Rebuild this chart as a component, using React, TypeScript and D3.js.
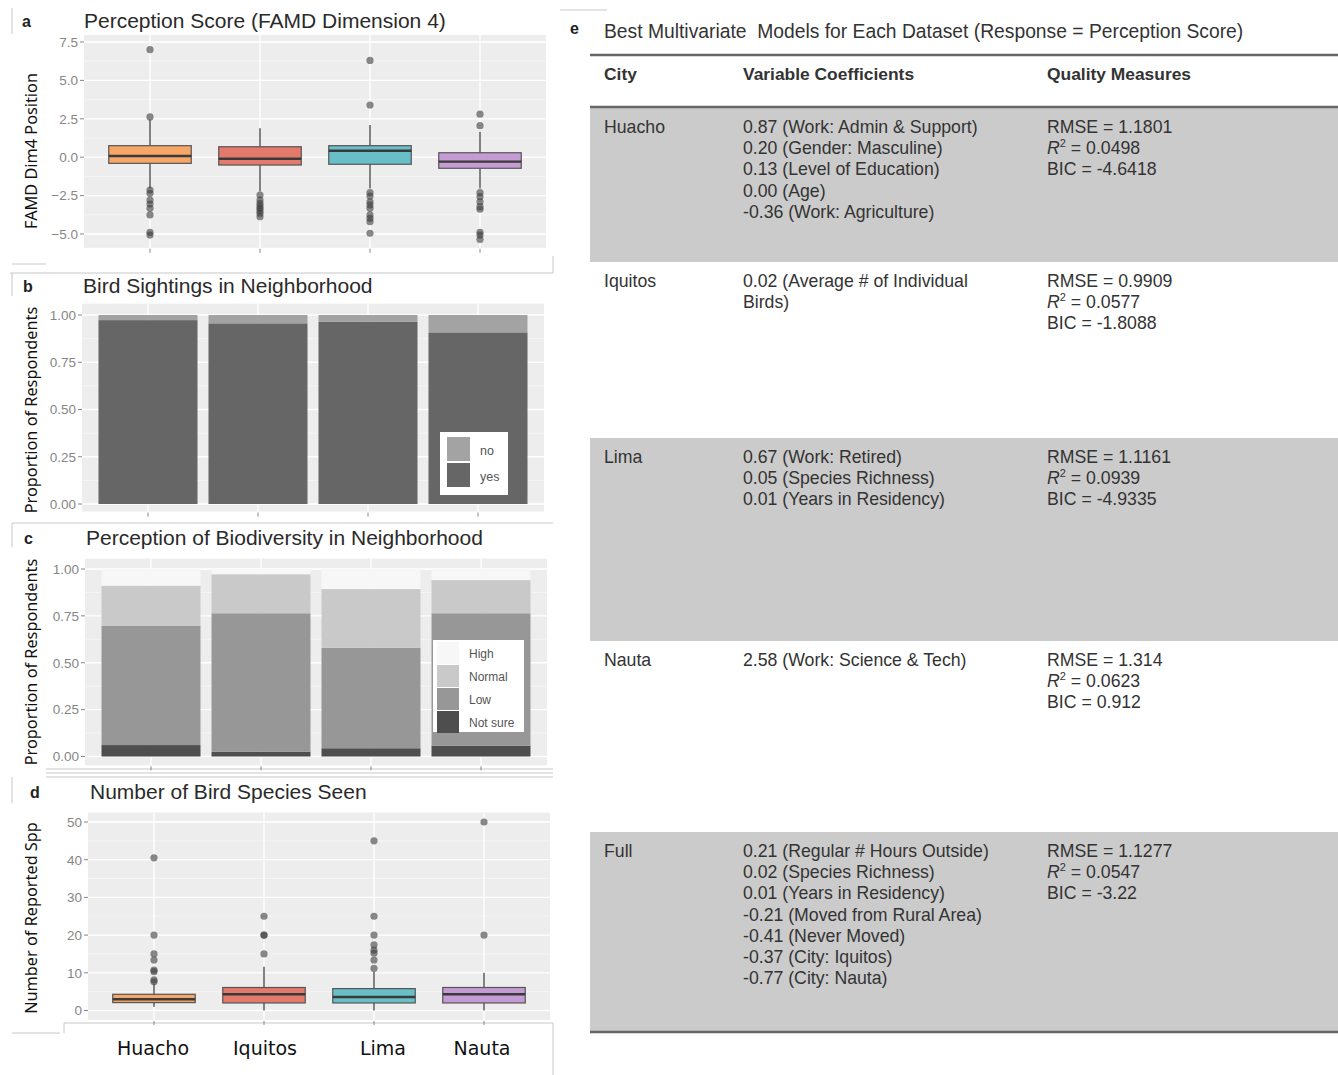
import React from "react";
import * as d3 from "d3";

// ---------- shared ----------
const cities = ["Huacho", "Iquitos", "Lima", "Nauta"];
const cityColors = ["#F6A768", "#E37A6C", "#69BFC8", "#C59BD4"];

// ---------- panel a: perception score ----------
const percTicks = [-5, -2.5, 0, 2.5, 5, 7.5];
const percQ1 = [-0.4, -0.51, -0.46, -0.72];
const percMedian = [0.08, -0.1, 0.42, -0.29];
const percQ3 = [0.75, 0.68, 0.75, 0.29];
const percWhiskerLow = [-2.03, -2.24, -2.03, -2.03];
const percWhiskerHigh = [2.45, 1.88, 2.1, 1.66];
const percOutliers = [
  [7.0, 2.62, -2.14, -2.35, -2.79, -3.05, -3.33, -3.76, -4.89, -5.07],
  [-2.46, -2.79, -3.0, -3.18, -3.33, -3.48, -3.65, -3.87],
  [6.3, 3.4, -2.31, -2.53, -2.9, -3.11, -3.33, -3.76, -3.98, -4.2, -4.95],
  [2.8, 2.05, -2.31, -2.57, -2.9, -3.22, -3.39, -4.89, -5.07, -5.35],
];

// ---------- panel b: bird sightings ----------
const sightingCategories = ["no", "yes"];
const sightingColors = ["#A3A3A3", "#666666"];
const sightingYes = [0.973, 0.956, 0.965, 0.908];
const sightingNo = [0.027, 0.044, 0.035, 0.092];
const propTicks = [0, 0.25, 0.5, 0.75, 1];

// ---------- panel c: perception of biodiversity ----------
const biodivCategories = ["High", "Normal", "Low", "Not sure"];
const biodivColors = ["#F7F7F7", "#C9C9C9", "#979797", "#4E4E4E"];
const biodivNotSure = [0.061, 0.026, 0.044, 0.058];
const biodivLow = [0.635, 0.738, 0.536, 0.706];
const biodivNormal = [0.215, 0.208, 0.313, 0.177];
const biodivHigh = [0.089, 0.028, 0.107, 0.059];

// ---------- panel d: number of species ----------
const sppTicks = [0, 10, 20, 30, 40, 50];
const sppQ1 = [2.1, 2, 2, 2];
const sppMedian = [3, 4.3, 3.6, 4.3];
const sppQ3 = [4.3, 6.1, 5.8, 6.1];
const sppWhiskerLow = [1, 0, 0, 0];
const sppWhiskerHigh = [7, 11.6, 10.3, 10];
const sppOutliers = [
  [40.5, 20, 15, 13.4, 10.7, 10.3, 8.1, 7.6],
  [25, 20, 20, 15],
  [45, 25, 20, 17.4, 16, 15.2, 13.4, 11.2],
  [50, 20],
];

// ---------- panel e: table ----------
const tableTitle =
  "Best Multivariate  Models for Each Dataset (Response = Perception Score)";
const tableHeaders = ["City", "Variable Coefficients", "Quality Measures"];
const tableCities = ["Huacho", "Iquitos", "Lima", "Nauta", "Full"];
const tableCoefs = [
  [
    "0.87 (Work: Admin & Support)",
    "0.20 (Gender: Masculine)",
    "0.13 (Level of Education)",
    "0.00 (Age)",
    "-0.36 (Work: Agriculture)",
  ],
  ["0.02 (Average # of Individual", "Birds)"],
  ["0.67 (Work: Retired)", "0.05 (Species Richness)", "0.01 (Years in Residency)"],
  ["2.58 (Work: Science & Tech)"],
  [
    "0.21 (Regular # Hours Outside)",
    "0.02 (Species Richness)",
    "0.01 (Years in Residency)",
    "-0.21 (Moved from Rural Area)",
    "-0.41 (Never Moved)",
    "-0.37 (City: Iquitos)",
    "-0.77 (City: Nauta)",
  ],
];
const tableRmse = ["1.1801", "0.9909", "1.1161", "1.314", "1.1277"];
const tableR2 = ["0.0498", "0.0577", "0.0939", "0.0623", "0.0547"];
const tableBic = ["-4.6418", "-1.8088", "-4.9335", "0.912", "-3.22"];

// ---------- layout ----------
const W = 1338;
const H = 1075;
const SANS = "'Liberation Sans', Arial, sans-serif";
const AXIS_FONT = "'Noto Sans', 'Open Sans', sans-serif";
const TICK_COLOR = "#868686";
const BG = "#EDEDED";

type PlotProps = {
  x0: number;
  x1: number;
  y: d3.ScaleLinear<number, number>;
  yTop: number;
  yBottom: number;
  ticks: number[];
  minor: number[];
  fmt: (v: number) => string;
  xs: d3.ScalePoint<string>;
};

function PlotFrame({ x0, x1, y, yTop, yBottom, ticks, minor, fmt, xs }: PlotProps) {
  return (
    <g>
      <rect x={x0} y={yTop} width={x1 - x0} height={yBottom - yTop} fill={BG} />
      {minor.map((t, i) => (
        <line key={"mi" + i} x1={x0} x2={x1} y1={y(t)} y2={y(t)} stroke="#F8F8F8" strokeWidth={0.7} />
      ))}
      {ticks.map((t, i) => (
        <line key={"ma" + i} x1={x0} x2={x1} y1={y(t)} y2={y(t)} stroke="#FFFFFF" strokeWidth={1.3} />
      ))}
      {cities.map((c) => (
        <line key={"v" + c} x1={xs(c)} x2={xs(c)} y1={yTop} y2={yBottom} stroke="#FFFFFF" strokeWidth={1.3} />
      ))}
      {ticks.map((t, i) => (
        <g key={"t" + i}>
          <line x1={x0 - 4} x2={x0} y1={y(t)} y2={y(t)} stroke={TICK_COLOR} strokeWidth={1} />
          <text
            x={x0 - 6}
            y={y(t) + 4.8}
            textAnchor="end"
            fontFamily={SANS}
            fontSize={13.5}
            fill={TICK_COLOR}
          >
            {fmt(t)}
          </text>
        </g>
      ))}
      {cities.map((c) => (
        <line key={"xt" + c} x1={xs(c)} x2={xs(c)} y1={yBottom + 1} y2={yBottom + 5} stroke={TICK_COLOR} strokeWidth={1} />
      ))}
    </g>
  );
}

function Boxes({
  xs,
  y,
  q1,
  med,
  q3,
  lo,
  hi,
  outliers,
}: {
  xs: d3.ScalePoint<string>;
  y: d3.ScaleLinear<number, number>;
  q1: number[];
  med: number[];
  q3: number[];
  lo: number[];
  hi: number[];
  outliers: number[][];
}) {
  const bw = xs.step() * 0.75;
  return (
    <g>
      {cities.map((c, i) => {
        const cx = xs(c) as number;
        return (
          <g key={c}>
            <line x1={cx} x2={cx} y1={y(q3[i])} y2={y(hi[i])} stroke="#5A5A5A" strokeWidth={1.5} />
            <line x1={cx} x2={cx} y1={y(q1[i])} y2={y(lo[i])} stroke="#5A5A5A" strokeWidth={1.5} />
            <rect
              x={cx - bw / 2}
              y={y(q3[i])}
              width={bw}
              height={y(q1[i]) - y(q3[i])}
              fill={cityColors[i]}
              stroke="#555555"
              strokeWidth={1.2}
            />
            <line x1={cx - bw / 2} x2={cx + bw / 2} y1={y(med[i])} y2={y(med[i])} stroke="#3A3A3A" strokeWidth={2.4} />
            {outliers[i].map((v, j) => (
              <circle key={j} cx={cx} cy={y(v)} r={3.6} fill="#3C3C3C" fillOpacity={0.6} />
            ))}
          </g>
        );
      })}
    </g>
  );
}

function Title({ letter, lx, text, tx, y }: { letter: string; lx: number; text: string; tx: number; y: number }) {
  return (
    <g>
      <text x={lx} y={y - 1} fontFamily={SANS} fontWeight="bold" fontSize={16} fill="#222">
        {letter}
      </text>
      <text x={tx} y={y} fontFamily={SANS} fontSize={21} fill="#2A2A2A">
        {text}
      </text>
    </g>
  );
}

function YTitle({ text, cy }: { text: string; cy: number }) {
  return (
    <text
      transform={`translate(37,${cy}) rotate(-90)`}
      textAnchor="middle"
      fontFamily={AXIS_FONT}
      fontSize={16.3}
      fill="#111"
    >
      {text}
    </text>
  );
}

const fmt1 = d3.format(".1f");
const fmt2 = d3.format(".2f");
const fmt0 = d3.format("d");

export default function App() {
  // panel a
  const xa = d3.scalePoint<string>().domain(cities).range([84, 546]).padding(0.6);
  const ya = d3.scaleLinear().domain([-5, 7.5]).range([234, 42]);
  // panel b
  const xb = d3.scalePoint<string>().domain(cities).range([82, 544]).padding(0.6);
  const yb = d3.scaleLinear().domain([0, 1]).range([504, 315]);
  // panel c
  const xc = d3.scalePoint<string>().domain(cities).range([85, 547]).padding(0.6);
  const yc = d3.scaleLinear().domain([0, 1]).range([756.5, 569]);
  // panel d
  const xd = d3.scalePoint<string>().domain(cities).range([88, 550]).padding(0.6);
  const yd = d3.scaleLinear().domain([0, 50]).range([1010.5, 822]);

  const minorProp = [0.125, 0.375, 0.625, 0.875];

  const bStack = [sightingYes, sightingNo];
  const bStackColors = [sightingColors[1], sightingColors[0]];
  const cStack = [biodivNotSure, biodivLow, biodivNormal, biodivHigh];
  const cStackColors = [biodivColors[3], biodivColors[2], biodivColors[1], biodivColors[0]];

  const stacked = (series: number[][]) =>
    cities.map((_, i) => {
      let acc = 0;
      return series.map((s) => {
        const start = acc;
        acc += s[i];
        return [start, acc];
      });
    });
  const bSeg = stacked(bStack);
  const cSeg = stacked(cStack);

  // table layout
  const rowTops = [108, 262, 438, 641, 832];
  const rowBottom = 1031;
  const lineH = 21.2;
  const colX = [604, 743, 1047];
  const TFS = 17.7;

  return (
    <svg
      width={W}
      height={H}
      viewBox={`0 0 ${W} ${H}`}
      style={{ position: "absolute", left: 0, top: 0, background: "#fff" }}
    >
      <rect x={0} y={0} width={W} height={H} fill="#fff" />

      {/* faint capture borders */}
      <g stroke="#C8C8C8" strokeWidth={1} fill="none">
        <line x1={12} x2={12} y1={8} y2={34} />
        <line x1={12} x2={46} y1={264} y2={264} />
        <line x1={553} x2={553} y1={256} y2={273} />
        <line x1={10} x2={553} y1={273} y2={273} />
        <line x1={12} x2={12} y1={273} y2={296} />
        <line x1={12} x2={553} y1={523} y2={523} />
        <line x1={12} x2={12} y1={523} y2={547} />
        <line x1={46} x2={553} y1={769} y2={769} />
        <line x1={46} x2={553} y1={773} y2={773} />
        <line x1={46} x2={553} y1={777} y2={777} />
        <line x1={12} x2={12} y1={777} y2={803} />
        <line x1={64} x2={553} y1={1023} y2={1023} />
        <line x1={64} x2={64} y1={1023} y2={1033} />
        <line x1={12} x2={60} y1={1033} y2={1033} />
        <line x1={553} x2={553} y1={1023} y2={1075} />
        <line x1={560} x2={607} y1={10} y2={10} />
      </g>

      {/* ---------------- panel a ---------------- */}
      <Title letter="a" lx={22} text="Perception Score (FAMD Dimension 4)" tx={84} y={28} />
      <PlotFrame
        x0={84}
        x1={546}
        y={ya}
        yTop={ya(7.96)}
        yBottom={ya(-5.9)}
        ticks={percTicks}
        minor={[-3.75, -1.25, 1.25, 3.75, 6.25]}
        fmt={fmt1}
        xs={xa}
      />
      <Boxes
        xs={xa}
        y={ya}
        q1={percQ1}
        med={percMedian}
        q3={percQ3}
        lo={percWhiskerLow}
        hi={percWhiskerHigh}
        outliers={percOutliers}
      />
      <YTitle text="FAMD Dim4 Position" cy={151} />

      {/* ---------------- panel b ---------------- */}
      <Title letter="b" lx={23} text="Bird Sightings in Neighborhood" tx={83} y={293} />
      <PlotFrame
        x0={82}
        x1={544}
        y={yb}
        yTop={yb(1.06)}
        yBottom={yb(-0.04)}
        ticks={propTicks}
        minor={minorProp}
        fmt={fmt2}
        xs={xb}
      />
      {cities.map((c, i) => {
        const bw = xb.step() * 0.9;
        const cx = xb(c) as number;
        return (
          <g key={"b" + c}>
            {bSeg[i].map(([s, e], k) => (
              <rect key={k} x={cx - bw / 2} y={yb(e)} width={bw} height={yb(s) - yb(e)} fill={bStackColors[k]} />
            ))}
          </g>
        );
      })}
      <g>
        <rect x={440} y={432} width={68} height={63} fill="#fff" />
        {sightingCategories.map((cat, k) => (
          <g key={cat}>
            <rect x={447} y={437 + k * 26} width={23} height={24} fill={sightingColors[k]} />
            <text x={480} y={455 + k * 26} fontFamily={SANS} fontSize={12.5} fill="#555">
              {cat}
            </text>
          </g>
        ))}
      </g>
      <YTitle text="Proportion of Respondents" cy={410} />

      {/* ---------------- panel c ---------------- */}
      <Title letter="c" lx={24} text="Perception of Biodiversity in Neighborhood" tx={86} y={545} />
      <PlotFrame
        x0={85}
        x1={547}
        y={yc}
        yTop={yc(1.055)}
        yBottom={yc(-0.047)}
        ticks={propTicks}
        minor={minorProp}
        fmt={fmt2}
        xs={xc}
      />
      {cities.map((c, i) => {
        const bw = xc.step() * 0.9;
        const cx = xc(c) as number;
        return (
          <g key={"c" + c}>
            {cSeg[i].map(([s, e], k) => (
              <rect key={k} x={cx - bw / 2} y={yc(e)} width={bw} height={yc(s) - yc(e)} fill={cStackColors[k]} />
            ))}
          </g>
        );
      })}
      <g>
        <rect x={433} y={640} width={91} height={92} fill="#fff" />
        {biodivCategories.map((cat, k) => (
          <g key={cat}>
            <rect x={437} y={642 + k * 23} width={22} height={22} fill={biodivColors[k]} />
            <text x={469} y={658 + k * 23} fontFamily={SANS} fontSize={12} fill="#555">
              {cat}
            </text>
          </g>
        ))}
      </g>
      <YTitle text="Proportion of Respondents" cy={662} />

      {/* ---------------- panel d ---------------- */}
      <Title letter="d" lx={30} text="Number of Bird Species Seen" tx={90} y={799} />
      <PlotFrame
        x0={88}
        x1={550}
        y={yd}
        yTop={yd(52.5)}
        yBottom={yd(-2.5)}
        ticks={sppTicks}
        minor={[5, 15, 25, 35, 45]}
        fmt={fmt0}
        xs={xd}
      />
      <Boxes
        xs={xd}
        y={yd}
        q1={sppQ1}
        med={sppMedian}
        q3={sppQ3}
        lo={sppWhiskerLow}
        hi={sppWhiskerHigh}
        outliers={sppOutliers}
      />
      <YTitle text="Number of Reported Spp" cy={918} />
      {cities.map((c, i) => (
        <text
          key={"xl" + c}
          x={[153, 265, 383, 482][i]}
          y={1055}
          textAnchor="middle"
          fontFamily="'DejaVu Sans', sans-serif"
          fontSize={19}
          fill="#111"
        >
          {c}
        </text>
      ))}

      {/* ---------------- panel e: table ---------------- */}
      <text x={570} y={34} fontFamily={SANS} fontWeight="bold" fontSize={16} fill="#222">
        e
      </text>
      <text x={604} y={38} fontFamily={SANS} fontSize={19.3} fill="#333" style={{ whiteSpace: "pre" }}>
        {tableTitle}
      </text>
      {tableCities.map((c, r) => {
        const top = rowTops[r];
        const bottom = r + 1 < rowTops.length ? rowTops[r + 1] : rowBottom;
        return r % 2 === 0 ? (
          <rect key={"sh" + c} x={590} y={top} width={W - 590} height={bottom - top} fill="#CBCBCB" />
        ) : null;
      })}
      <line x1={590} x2={W} y1={55} y2={55} stroke="#666" strokeWidth={2.5} />
      <line x1={590} x2={W} y1={107} y2={107} stroke="#666" strokeWidth={2.5} />
      <line x1={590} x2={W} y1={1032} y2={1032} stroke="#666" strokeWidth={2.5} />
      {tableHeaders.map((h, k) => (
        <text key={h} x={colX[k]} y={80} fontFamily={SANS} fontWeight="bold" fontSize={17.4} fill="#333">
          {h}
        </text>
      ))}
      {tableCities.map((c, r) => {
        const base = rowTops[r] + 25;
        return (
          <g key={"row" + c} fontFamily={SANS} fontSize={TFS} fill="#333">
            <text x={colX[0]} y={base}>
              {c}
            </text>
            {tableCoefs[r].map((l, j) => (
              <text key={j} x={colX[1]} y={base + j * lineH}>
                {l}
              </text>
            ))}
            <text x={colX[2]} y={base}>
              {"RMSE = " + tableRmse[r]}
            </text>
            <text x={colX[2]} y={base + lineH}>
              <tspan fontStyle="italic">R</tspan>
              <tspan dy={-7} fontSize={11}>
                2
              </tspan>
              <tspan dy={7}>{" = " + tableR2[r]}</tspan>
            </text>
            <text x={colX[2]} y={base + 2 * lineH}>
              {"BIC = " + tableBic[r]}
            </text>
          </g>
        );
      })}
    </svg>
  );
}
